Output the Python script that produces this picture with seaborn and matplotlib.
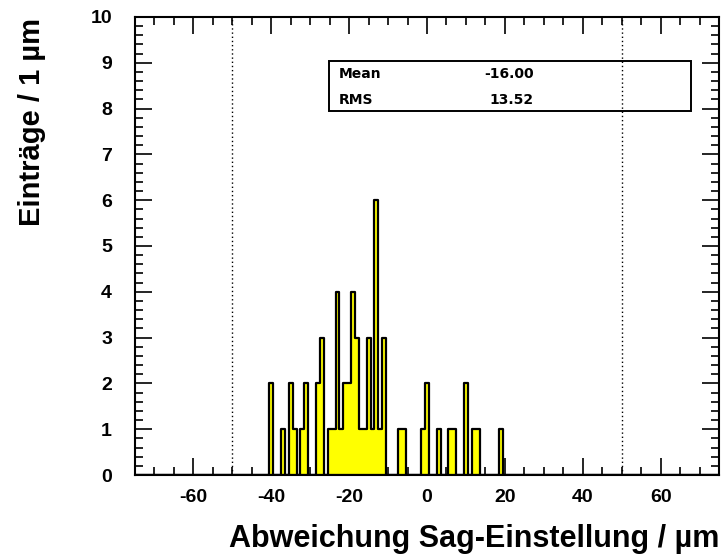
import numpy as np
import pandas as pd
import seaborn as sns
import matplotlib
matplotlib.use("Agg")
import matplotlib.pyplot as plt
from matplotlib.ticker import MultipleLocator

# Data (bin centers in µm, entries per 1 µm bin)
centers = [-40, -37, -35, -34, -32, -31, -28, -27, -25, -24, -23, -22, -21, -20,
           -19, -18, -17, -16, -15, -14, -13, -12, -11, -7, -6, -1, 0, 3, 6, 7,
           10, 12, 13, 19]
counts = [2, 1, 2, 1, 1, 2, 2, 3, 1, 1, 4, 1, 2, 2,
          4, 3, 1, 1, 3, 1, 6, 1, 3, 1, 1, 1, 2, 1, 1, 1,
          2, 1, 1, 1]
xticks = [-60, -40, -20, 0, 20, 40, 60]
yticks = [0, 1, 2, 3, 4, 5, 6, 7, 8, 9, 10]
limits = [-50, 50]
stats_labels = ["Mean", "RMS"]
stats_values = ["-16.00", "13.52"]

sns.set_style("ticks")
plt.rcParams["font.family"] = ["Liberation Sans", "DejaVu Sans"]
plt.rcParams["font.weight"] = "bold"
plt.rcParams["axes.unicode_minus"] = False
for k in ["text.color", "axes.labelcolor", "xtick.color", "ytick.color", "axes.edgecolor"]:
    plt.rcParams[k] = "black"

df = pd.DataFrame({"x": centers, "w": counts})

fig = plt.figure(figsize=(7.25, 5.58), dpi=100)
ax = fig.add_axes([135 / 725, 1 - 475 / 558, (719 - 135) / 725, (475 - 17) / 558])

sns.histplot(data=df, x="x", weights="w", binwidth=1.0, binrange=(-75.5, 75.5),
             element="step", fill=True, ax=ax,
             facecolor="#ffff00", edgecolor="black", linewidth=1.6, alpha=1.0)

for xl in limits:
    ax.axvline(xl, color="black", linestyle=(0, (1, 2)), linewidth=1.0, zorder=3)

ax.set_xlim(-75, 75)
ax.set_ylim(0, 10)
ax.set_xticks(xticks)
ax.set_yticks(yticks)
ax.xaxis.set_minor_locator(MultipleLocator(5))
ax.yaxis.set_minor_locator(MultipleLocator(0.2))
ax.tick_params(which="both", direction="in", top=True, right=True, width=1.2, color="black")
ax.tick_params(which="major", length=12)
ax.tick_params(which="minor", length=6)
ax.tick_params(axis="x", which="major", labelsize=14, pad=10)
ax.tick_params(axis="y", which="major", labelsize=14, pad=16.5)
for lab in ax.get_xticklabels() + ax.get_yticklabels():
    lab.set_fontweight("bold")
for s in ax.spines.values():
    s.set_linewidth(1.5)
    s.set_color("black")
    s.set_visible(True)

ax.set_xlabel("Abweichung Sag-Einstellung / µm", fontsize=22, fontweight="bold",
              ha="right", va="top")
ax.xaxis.set_label_coords(1.0, (475 - 524) / 458)
ax.set_ylabel("Einträge / 1 µm", fontsize=21, fontweight="bold")
ax.yaxis.set_label_coords((46 - 135) / 584, (475 - 122.5) / 458)

# stats box
bx0, bx1 = (329 - 135) / 584, (691 - 135) / 584
by0, by1 = (475 - 111) / 458, (475 - 61) / 458
ax.add_patch(plt.Rectangle((bx0, by0), bx1 - bx0, by1 - by0, transform=ax.transAxes,
                           facecolor="none", edgecolor="black", linewidth=1.4, zorder=4))
rows_y = [(475 - 74) / 458, (475 - 100.5) / 458]
for lab, val, yy in zip(stats_labels, stats_values, rows_y):
    ax.text((339 - 135) / 584, yy, lab, transform=ax.transAxes, fontsize=10,
            family="DejaVu Sans", fontweight="bold", va="center", ha="left")
    ax.text((534 - 135) / 584, yy, val, transform=ax.transAxes, fontsize=10,
            family="DejaVu Sans", fontweight="bold", va="center", ha="right")

fig.savefig("out.png", dpi=100)
